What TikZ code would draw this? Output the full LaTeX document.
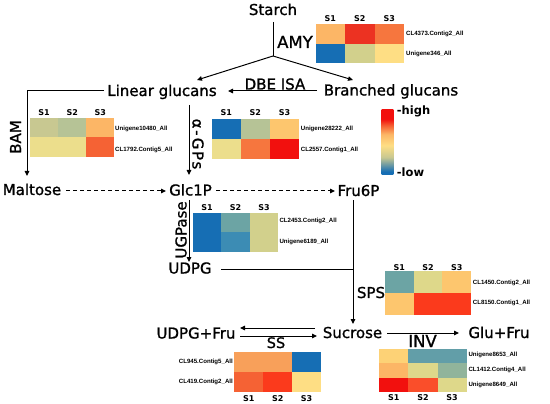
\documentclass[tikz,border=0pt]{standalone}
\usepackage{fontspec}
\setmainfont{DejaVu Sans}
\newfontfamily\heavyfont[FakeBold=1.1]{DejaVu Sans}
\newfontfamily\genefont{Liberation Sans}
\usetikzlibrary{arrows.meta}
\definecolor{cBlu}{RGB}{22,110,180}
\definecolor{cTlB}{RGB}{60,140,180}
\definecolor{cTl1}{RGB}{108,164,164}
\definecolor{cTl2}{RGB}{98,158,168}
\definecolor{cSag}{RGB}{182,195,150}
\definecolor{cKgr}{RGB}{200,200,145}
\definecolor{cKha}{RGB}{210,208,140}
\definecolor{cKhL}{RGB}{222,216,138}
\definecolor{cYkh}{RGB}{236,222,140}
\definecolor{cYel}{RGB}{254,222,132}
\definecolor{cYeO}{RGB}{253,210,118}
\definecolor{cLOr}{RGB}{252,182,102}
\definecolor{cOrY}{RGB}{253,198,110}
\definecolor{cOr1}{RGB}{248,160,90}
\definecolor{cOr2}{RGB}{246,118,62}
\definecolor{cOrR}{RGB}{245,98,52}
\definecolor{cRe1}{RGB}{236,50,34}
\definecolor{cRe2}{RGB}{251,58,28}
\definecolor{cRe3}{RGB}{242,16,14}
\definecolor{cGre}{RGB}{145,180,155}
\definecolor{cOrr}{RGB}{250,78,42}
\pgfdeclareverticalshading{legbar}{100bp}{color(0bp)=(cBlu); color(27.5bp)=(cBlu); color(38.5bp)=(cKgr); color(47.5bp)=(cYel); color(56bp)=(cLOr); color(62.5bp)=(cOrR); color(67.5bp)=(cRe3); color(100bp)=(cRe3)}
\newcommand\hmrow[5]{\foreach \cc [count=\ii from 0] in {#5} {\fill[\cc] ({#1+\ii*#3},#2) rectangle ({#1+(\ii+1)*#3},{#2+#4});}}
\begin{document}
\begin{tikzpicture}[x=1pt,y=-1pt,
  lbl/.style={font=\heavyfont\fontsize{15}{18}\selectfont, inner sep=0pt, anchor=base},
  biglbl/.style={lbl, font=\heavyfont\fontsize{16.5}{19}\selectfont},
  slab/.style={font=\bfseries\fontsize{8}{9}\selectfont, inner sep=0pt, anchor=base},
  glab/.style={font=\genefont\bfseries\fontsize{6.1}{7}\selectfont, inner sep=0pt, anchor=west},
  leg/.style={font=\bfseries\fontsize{11.5}{13}\selectfont, inner sep=0pt, anchor=base west},
  ln/.style={line width=1pt},
  arr/.style={line width=1pt, -{Triangle[length=5pt,width=4.5pt]}},
  darr/.style={arr, dash pattern=on 4pt off 3pt}]
\useasboundingbox (0,0) rectangle (550,404);
\fill[white] (0,0) rectangle (550,404);

% ---------- main labels ----------
\node[lbl] (starch) at (273,15) {Starch};
\node[lbl] (lin) at (162,96) {Linear glucans};
\node[lbl] (bra) at (391,95.5) {Branched glucans};
\node[lbl] (malt) at (32,195) {Maltose};
\node[lbl] (glc) at (190.5,195.5) {Glc1P};
\node[lbl] (fru6) at (358.5,196) {Fru6P};
\node[lbl] (udpg) at (190,273.5) {UDPG};
\node[lbl] (udpgfru) at (196,338.5) {UDPG+Fru};
\node[lbl] (suc) at (352.5,338) {Sucrose};
\node[lbl] (glufru) at (499,338) {Glu+Fru};

% ---------- enzyme labels ----------
\node[biglbl] (amy) at (295,48) {AMY};
\node[lbl] (dbe) at (275,89.5) {DBE ISA};
\node[lbl,rotate=90] (bam) at (21,137) {BAM};
\node[lbl,rotate=-90,font=\heavyfont\fontsize{15}{18}\selectfont\addfontfeature{LetterSpace=11}] (agp) at (192.5,144) {α-GPs};
\node[lbl,rotate=90] (ugp) at (186.5,230) {UGPase};
\node[lbl] (sps) at (371,298) {SPS};
\node[lbl,font=\heavyfont\fontsize{14.5}{17}\selectfont] (ss) at (276,348) {SS};
\node[biglbl] (inv) at (422.5,347) {INV};

% ---------- connectors ----------
\coordinate (s0) at (273,22);
\coordinate (j1) at (273,56);
\coordinate (linT) at (197,80);
\coordinate (braT) at (353,80);
\draw[ln] (s0) -- (j1);
\draw[arr] (j1) -- (linT);
\draw[arr] (j1) -- (braT);
\coordinate (braW) at (317,91);
\coordinate (linE) at (228,91);
\draw[arr] (braW) -- (linE);
\coordinate (linW) at (104,91);
\coordinate (bamC) at (27,91);
\coordinate (maltN) at (27,176);
\draw[arr] (linW) -- (bamC) -- (maltN);
\coordinate (linS) at (189,105);
\coordinate (glcN) at (189,175);
\draw[arr] (linS) -- (glcN);
\coordinate (maltE) at (66,191);
\coordinate (glcW) at (166,191);
\draw[darr] (maltE) -- (glcW);
\coordinate (glcE) at (216,191);
\coordinate (fruW) at (335,191);
\draw[darr] (glcE) -- (fruW);
\coordinate (glcS) at (189,200);
\coordinate (udpgN) at (189,262);
\draw[arr] (glcS) -- (udpgN);
\coordinate (udpgE) at (221,269);
\coordinate (jn) at (353,269);
\draw[ln] (udpgE) -- (jn);
\coordinate (fruS) at (353,200);
\coordinate (sucN) at (353,324);
\draw[arr] (fruS) -- (sucN);
\coordinate (ssA) at (315,328);
\coordinate (ssB) at (240,328);
\coordinate (ssC) at (240,336);
\coordinate (ssD) at (317,336);
\draw[arr] (ssA) -- (ssB);
\draw[arr] (ssC) -- (ssD);
\coordinate (sucE) at (387,333);
\coordinate (gfW) at (459,333);
\draw[arr] (sucE) -- (gfW);

% ---------- AMY heatmap ----------
\hmrow{315.7}{24}{29.4}{19.7}{cLOr,cRe1,cOr2}
\hmrow{315.7}{43.7}{29.4}{19.7}{cBlu,cKha,cYel}
\node[slab] (amyS1) at (330.4,21.5) {S1};
\node[slab] (amyS2) at (359.8,21.5) {S2};
\node[slab] (amyS3) at (389.2,21.5) {S3};
\node[glab] (amyG1) at (406,33.5) {CL4373.Contig2\_All};
\node[glab] (amyG2) at (406,54) {Unigene346\_All};

% ---------- BAM heatmap ----------
\hmrow{30}{117.7}{28.1}{19.8}{cKgr,cSag,cLOr}
\hmrow{30}{137.5}{28.1}{19.8}{cYkh,cYkh,cOrR}
\node[slab] (bamS1) at (44,115.7) {S1};
\node[slab] (bamS2) at (72.2,115.7) {S2};
\node[slab] (bamS3) at (100.3,115.7) {S3};
\node[glab] (bamG1) at (115,129.3) {Unigene10480\_All};
\node[glab] (bamG2) at (115,150) {CL1792.Contig5\_All};

% ---------- alpha-GPs heatmap ----------
\hmrow{211.7}{119.3}{29.1}{20}{cBlu,cSag,cOrY}
\hmrow{211.7}{139.3}{29.1}{20}{cYkh,cOr2,cRe3}
\node[slab] (agpS1) at (226.3,115.7) {S1};
\node[slab] (agpS2) at (255.4,115.7) {S2};
\node[slab] (agpS3) at (284.5,115.7) {S3};
\node[glab] (agpG1) at (300.7,129.3) {Unigene28222\_All};
\node[glab] (agpG2) at (300.7,150) {CL2557.Contig1\_All};

% ---------- legend ----------
\shade[shading=legbar] (381.7,109.3) rectangle (393.3,175);
\node[leg] (high) at (396.7,115) {-high};
\node[leg] (low) at (396.7,176.5) {-low};

% ---------- UGPase heatmap ----------
\hmrow{192.7}{213.3}{28.5}{19.2}{cBlu,cTl1,cKha}
\hmrow{192.7}{232.5}{28.5}{19.2}{cBlu,cTlB,cKha}
\node[slab] (ugpS1) at (207,210.7) {S1};
\node[slab] (ugpS2) at (235.5,210.7) {S2};
\node[slab] (ugpS3) at (264,210.7) {S3};
\node[glab] (ugpG1) at (279.3,220.7) {CL2453.Contig2\_All};
\node[glab] (ugpG2) at (279.3,242.3) {Unigene6189\_All};

% ---------- SPS heatmap ----------
\hmrow{385}{270.7}{28.7}{22.2}{cTl1,cKhL,cOrY}
\hmrow{385}{292.9}{28.7}{22.2}{cOrY,cRe2,cRe2}
\node[slab] (spsS1) at (399.4,270) {S1};
\node[slab] (spsS2) at (428,270) {S2};
\node[slab] (spsS3) at (456.7,270) {S3};
\node[glab] (spsG1) at (472.7,283.3) {CL1450.Contig2\_All};
\node[glab] (spsG2) at (472.7,303.3) {CL8150.Contig1\_All};

% ---------- SS heatmap ----------
\hmrow{234.3}{351.7}{28.9}{20}{cOr1,cOr1,cBlu}
\hmrow{234.3}{371.7}{28.9}{20}{cOrR,cRe2,cYel}
\node[slab] (ssS1) at (248.8,401.5) {S1};
\node[slab] (ssS2) at (277.7,401.5) {S2};
\node[slab] (ssS3) at (306.6,401.5) {S3};
\node[glab,anchor=east] (ssG1) at (233,361.7) {CL945.Contig5\_All};
\node[glab,anchor=east] (ssG2) at (233,381.7) {CL419.Contig2\_All};

% ---------- INV heatmap ----------
\hmrow{379.3}{349.3}{29.1}{14.1}{cYeO,cTl2,cTl2}
\hmrow{379.3}{363.4}{29.1}{14.1}{cLOr,cKhL,cGre}
\hmrow{379.3}{377.5}{29.1}{14.2}{cRe3,cOrr,cKhL}
\node[slab] (invS1) at (393.9,400.7) {S1};
\node[slab] (invS2) at (423,400.7) {S2};
\node[slab] (invS3) at (452.1,400.7) {S3};
\node[glab] (invG1) at (468.3,355) {Unigene8653\_All};
\node[glab] (invG2) at (468.3,370) {CL1412.Contig4\_All};
\node[glab] (invG3) at (468.3,384.5) {Unigene8649\_All};
\end{tikzpicture}
\end{document}
